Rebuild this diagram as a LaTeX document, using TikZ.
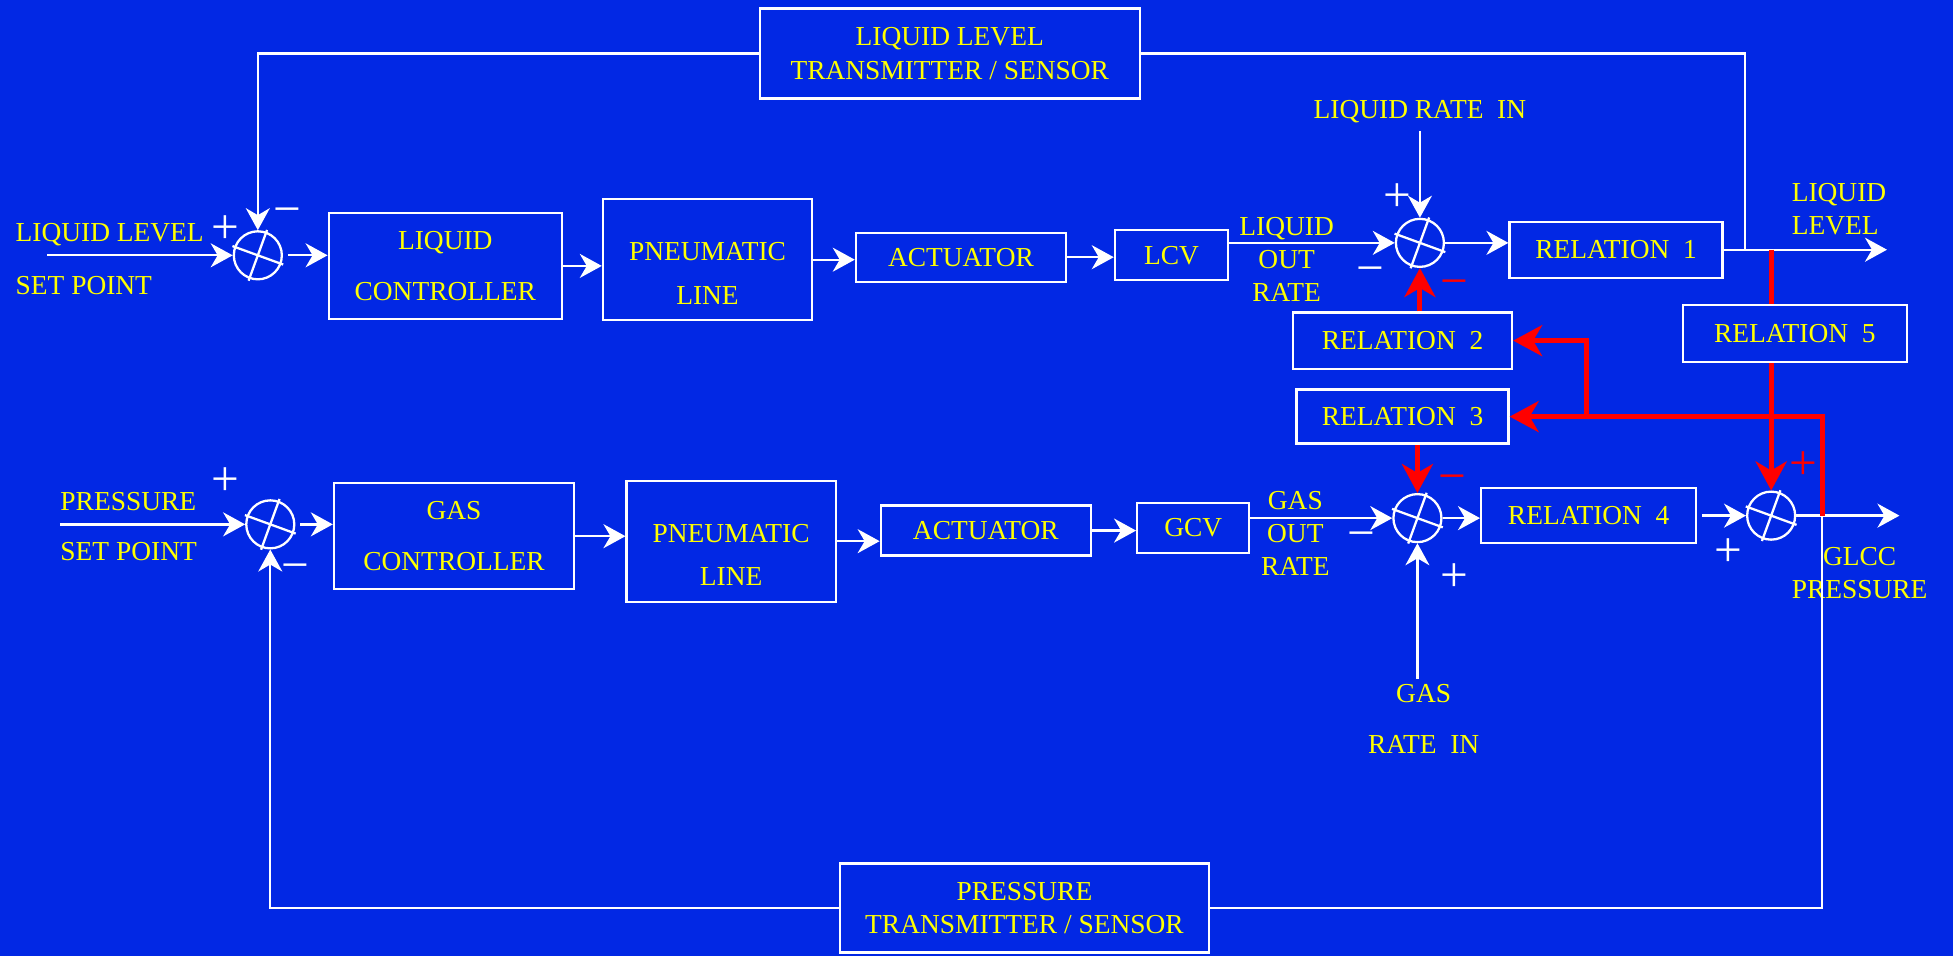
\documentclass[tikz,border=0pt]{standalone}
\usepackage{fontspec}
\setmainfont{Liberation Serif}
\usepackage{tikz}
\usetikzlibrary{positioning,calc,arrows.meta}
\definecolor{bgblue}{RGB}{2,40,228}
\definecolor{lblyellow}{RGB}{255,255,0}
\definecolor{linkred}{RGB}{255,0,0}

\begin{document}
\begin{tikzpicture}[
    x=0.012455cm, y=-0.012455cm,
    box/.style={rectangle, draw=white, line width=0.65pt, align=center, inner sep=0pt, text=lblyellow, font=\fontsize{7.8}{9.4}\selectfont},
    sum/.style={circle, draw=white, line width=0.65pt, minimum size=0.48cm, inner sep=0pt},
    lbl/.style={text=lblyellow, font=\fontsize{7.8}{9.4}\selectfont, inner sep=0pt},
    sign/.style={text=white, font=\fontsize{14}{14}\selectfont, inner sep=0pt, yshift=-0.05cm},
    redsign/.style={sign, text=linkred},
    link/.style={white, line width=0.65pt},
    arrow/.style={link, -{Stealth[length=0.22cm, width=0.24cm, inset=0.07cm]}},
    redlink/.style={linkred, line width=1.4pt},
    redarrow/.style={redlink, -{Stealth[length=0.29cm, width=0.31cm, inset=0.09cm]}}
]

\useasboundingbox (0,0) rectangle (1568,767);
\fill[bgblue] (-10,-10) rectangle (1578,777);

% liquid level loop
\node[box, minimum width=3.80cm, minimum height=0.90cm] (lltx) at (762.5,43) {LIQUID LEVEL\\TRANSMITTER / SENSOR};
\node[sum] (lsum) at (207,205) {};
\node[box, minimum width=2.33cm, minimum height=1.06cm] (lctrl) at (357.5,213.5) {LIQUID\\[5pt]CONTROLLER};
\node[box, minimum width=2.09cm, minimum height=1.21cm] (lpneu) at (568,208.5) {\rule{0pt}{13pt}PNEUMATIC\\[3pt]LINE};
\node[box, minimum width=2.10cm, minimum height=0.49cm] (lact) at (771.5,206.5) {ACTUATOR};
\node[box, minimum width=1.13cm, minimum height=0.50cm] (lcv) at (940.5,205) {LCV};
\node[sum] (lrsum) at (1140,195) {};
\node[box, minimum width=2.13cm, minimum height=0.56cm] (rel1) at (1297.5,200.5) {RELATION\ \ 1};
\node[box, minimum width=2.24cm, minimum height=0.57cm] (rel5) at (1441,268) {RELATION\ \ 5};
\node[box, minimum width=2.19cm, minimum height=0.56cm] (rel2) at (1126,273.5) {RELATION\ \ 2};
\node[box, minimum width=2.12cm, minimum height=0.54cm] (rel3) at (1126,334.5) {RELATION\ \ 3};

% gas pressure loop
\node[sum] (gsum) at (217,421) {};
\node[box, minimum width=2.40cm, minimum height=1.06cm] (gctrl) at (364.5,430.5) {GAS\\[5pt]CONTROLLER};
\node[box, minimum width=2.09cm, minimum height=1.21cm] (gpneu) at (587,434.5) {\rule{0pt}{13pt}PNEUMATIC\\[3pt]LINE};
\node[box, minimum width=2.10cm, minimum height=0.50cm] (gact) at (791.5,426) {ACTUATOR};
\node[box, minimum width=1.12cm, minimum height=0.50cm] (gcv) at (958,424) {GCV};
\node[sum] (grsum) at (1138,416) {};
\node[box, minimum width=2.15cm, minimum height=0.55cm] (rel4) at (1275.5,414) {RELATION\ \ 4};
\node[sum] (psum) at (1422,414) {};
\node[box, minimum width=3.69cm, minimum height=0.89cm] (ptx) at (822.5,729) {PRESSURE\\TRANSMITTER / SENSOR};

% texts
\node[lbl, anchor=west] at (12,188) {LIQUID LEVEL};
\node[lbl, anchor=west] at (12,229) {SET POINT};
\node[lbl, anchor=west] at (48,403) {PRESSURE};
\node[lbl, anchor=west] at (48,443) {SET POINT};
\node[lbl, align=center] at (1033,208) {LIQUID\\OUT\\RATE};
\node[lbl, align=center] at (1040,428) {GAS\\OUT\\RATE};
\node[lbl] at (1140,90) {LIQUID RATE\ \ IN};
\node[lbl, align=left, anchor=west] at (1438,168) {LIQUID\\LEVEL};
\node[lbl, align=center] at (1493,460) {GLCC\\PRESSURE};
\node[lbl] at (1143,557) {GAS};
\node[lbl] at (1143,598) {RATE\ \ IN};

% signs
\node[sign] at (181,180) {+};
\node[sign] at (231,170) {−};
\node[sign] at (1122,155) {+};
\node[sign] at (1100,217) {−};
\node[redsign] at (1168,228) {−};
\node[sign] at (181,383) {+};
\node[sign] at (237,456) {−};
\node[sign] at (1093,430) {−};
\node[redsign] at (1166,384) {−};
\node[sign] at (1168,460) {+};
\node[sign] at (1388,440) {+};
\node[redsign] at (1448,370) {+};

\foreach \s in {lsum,lrsum,gsum,grsum,psum}
    \draw[link] ($(\s)+(160:0.27cm)$) -- ($(\s)+(-20:0.27cm)$) ($(\s)+(70:0.27cm)$) -- ($(\s)+(250:0.27cm)$);

% free ends
\coordinate (lsp) at (38,205);
\coordinate (lrin) at (1140,105);
\coordinate (lout) at (1515,200.5);
\coordinate (ltap) at (1401,200.5);
\coordinate (rtap) at (1422,200.5);
\coordinate (gsp) at (48,421);
\coordinate (grin) at (1138,545);
\coordinate (gout) at (1525,414);
\coordinate (ptap) at (1463,414);
\coordinate (br) at (1274,334.5);

% liquid connectors
\draw[arrow] (lsp) -- (lsum.west);
\draw[arrow, shorten <=0.05cm] (lsum.east) -- (lsum.east -| lctrl.west);
\draw[arrow] (lctrl.east) -- (lctrl.east -| lpneu.west);
\draw[arrow] (lpneu.east) -- (lpneu.east -| lact.west);
\draw[arrow] (lact.east) -- (lact.east -| lcv.west);
\draw[arrow] (lcv.east |- lrsum) -- (lrsum.west);
\draw[arrow] (lrin) -- (lrsum.north);
\draw[arrow] (lrsum.east) -- (lrsum.east -| rel1.west);
\draw[arrow] (rel1.east) -- (lout);
\draw[link] (ltap) |- (lltx.east);
\draw[arrow] (lltx.west) -| (lsum.north);

% gas connectors
\draw[arrow] (gsp) -- (gsum.west);
\draw[arrow, shorten <=0.05cm] (gsum.east) -- (gsum.east -| gctrl.west);
\draw[arrow] (gctrl.east) -- (gctrl.east -| gpneu.west);
\draw[arrow] (gpneu.east) -- (gpneu.east -| gact.west);
\draw[arrow] (gact.east) -- (gact.east -| gcv.west);
\draw[arrow] (gcv.east |- grsum) -- (grsum.west);
\draw[arrow] (grin) -- (grsum.south);
\draw[arrow] (grsum.east) -- (grsum.east -| rel4.west);
\draw[arrow, shorten <=0.05cm] (rel4.east) -- (psum.west);
\draw[arrow] (psum.east) -- (gout);
\draw[link] (ptap) |- (ptx.east);
\draw[arrow] (ptx.west) -| (gsum.south);

% interaction links
\draw[redlink] (rtap) -- (rtap |- rel5.north);
\draw[redarrow] (rel5.south -| psum) -- (psum.north);
\draw[redarrow] (ptap) |- (rel3.east);
\draw[redarrow] (br) |- (rel2.east);
\draw[redarrow] (rel2.north -| lrsum) -- (lrsum.south);
\draw[redarrow] (rel3.south -| grsum) -- (grsum.north);

\end{tikzpicture}
\end{document}
